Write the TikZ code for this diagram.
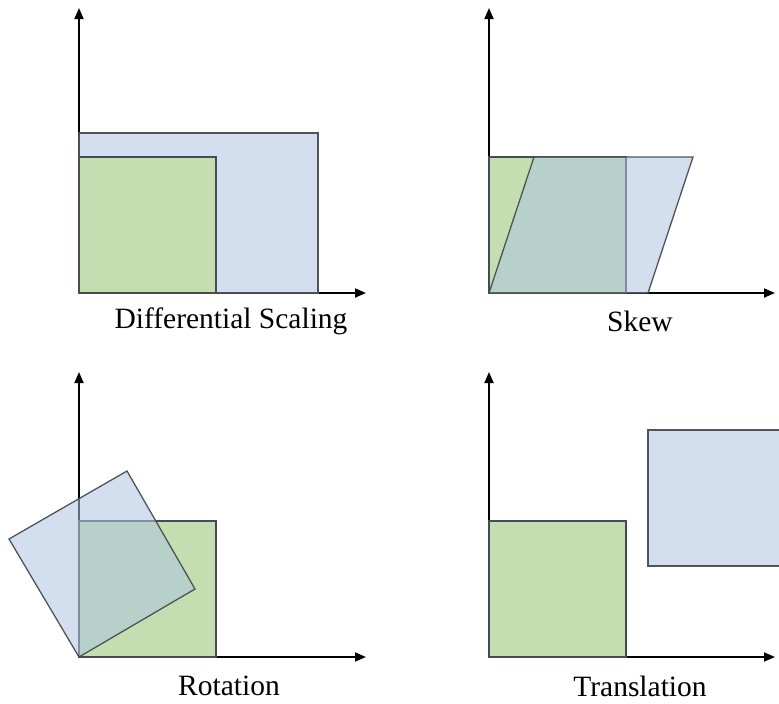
\documentclass[tikz,border=0pt]{standalone}
\usepackage{fontspec}
\setmainfont{Liberation Serif}
\usetikzlibrary{arrows.meta}
\definecolor{boxgreen}{RGB}{196,222,177}
\definecolor{boxblue}{RGB}{175,197,224}
\definecolor{edgegrey}{RGB}{72,76,80}
\tikzset{
  axis/.style={line width=1.8pt,black,-{Triangle[length=11pt,width=9pt]}},
  greenbox/.style={fill=boxgreen,draw=edgegrey,line width=1.3pt,line join=miter},
  bluebox/.style={fill=boxblue,fill opacity=0.55,draw=edgegrey,draw opacity=0.95,line width=1.3pt,line join=miter},
  caption/.style={font=\fontsize{29.5}{34}\selectfont,inner sep=0pt}
}
\begin{document}
\begin{tikzpicture}[x=1pt,y=-1pt]
\useasboundingbox (0,0) rectangle (779,704);

% ---- Differential scaling ----
\coordinate (o1) at (79,293);
\draw[axis] (o1) -- (79,8);
\draw[axis] (o1) -- (366,293);
\draw[bluebox,fill opacity=1,fill={rgb,255:red,211;green,223;blue,238}] (o1) rectangle (318,133);
\draw[greenbox] (o1) rectangle (216,157);
\node[caption] (lab1) at (231,321) {Differential Scaling};

% ---- Skew ----
\coordinate (o2) at (489,293);
\draw[axis] (o2) -- (489,8);
\draw[axis] (o2) -- (775,293);
\draw[greenbox] (o2) rectangle (626,157);
\draw[bluebox] (o2) -- (534,157) -- (693,157) -- (648,293) -- cycle;
\node[caption] (lab2) at (640,321) {Skew};

% ---- Rotation ----
\coordinate (o3) at (79,657);
\draw[axis] (o3) -- (79,372);
\draw[axis] (o3) -- (366,657);
\draw[greenbox] (o3) rectangle (216,521);
\draw[bluebox] (o3) -- (195,589) -- (127,471) -- (9,539) -- cycle;
\node[caption] (lab3) at (229,686) {Rotation};

% ---- Translation ----
\coordinate (o4) at (489,657);
\draw[axis] (o4) -- (489,372);
\draw[axis] (o4) -- (775,657);
\draw[greenbox] (o4) rectangle (626,521);
\draw[bluebox,fill opacity=1,fill={rgb,255:red,211;green,223;blue,238}] (790,430) -- (648,430) -- (648,566) -- (790,566);
\node[caption] (lab4) at (640,686) {Translation};
\end{tikzpicture}
\end{document}
